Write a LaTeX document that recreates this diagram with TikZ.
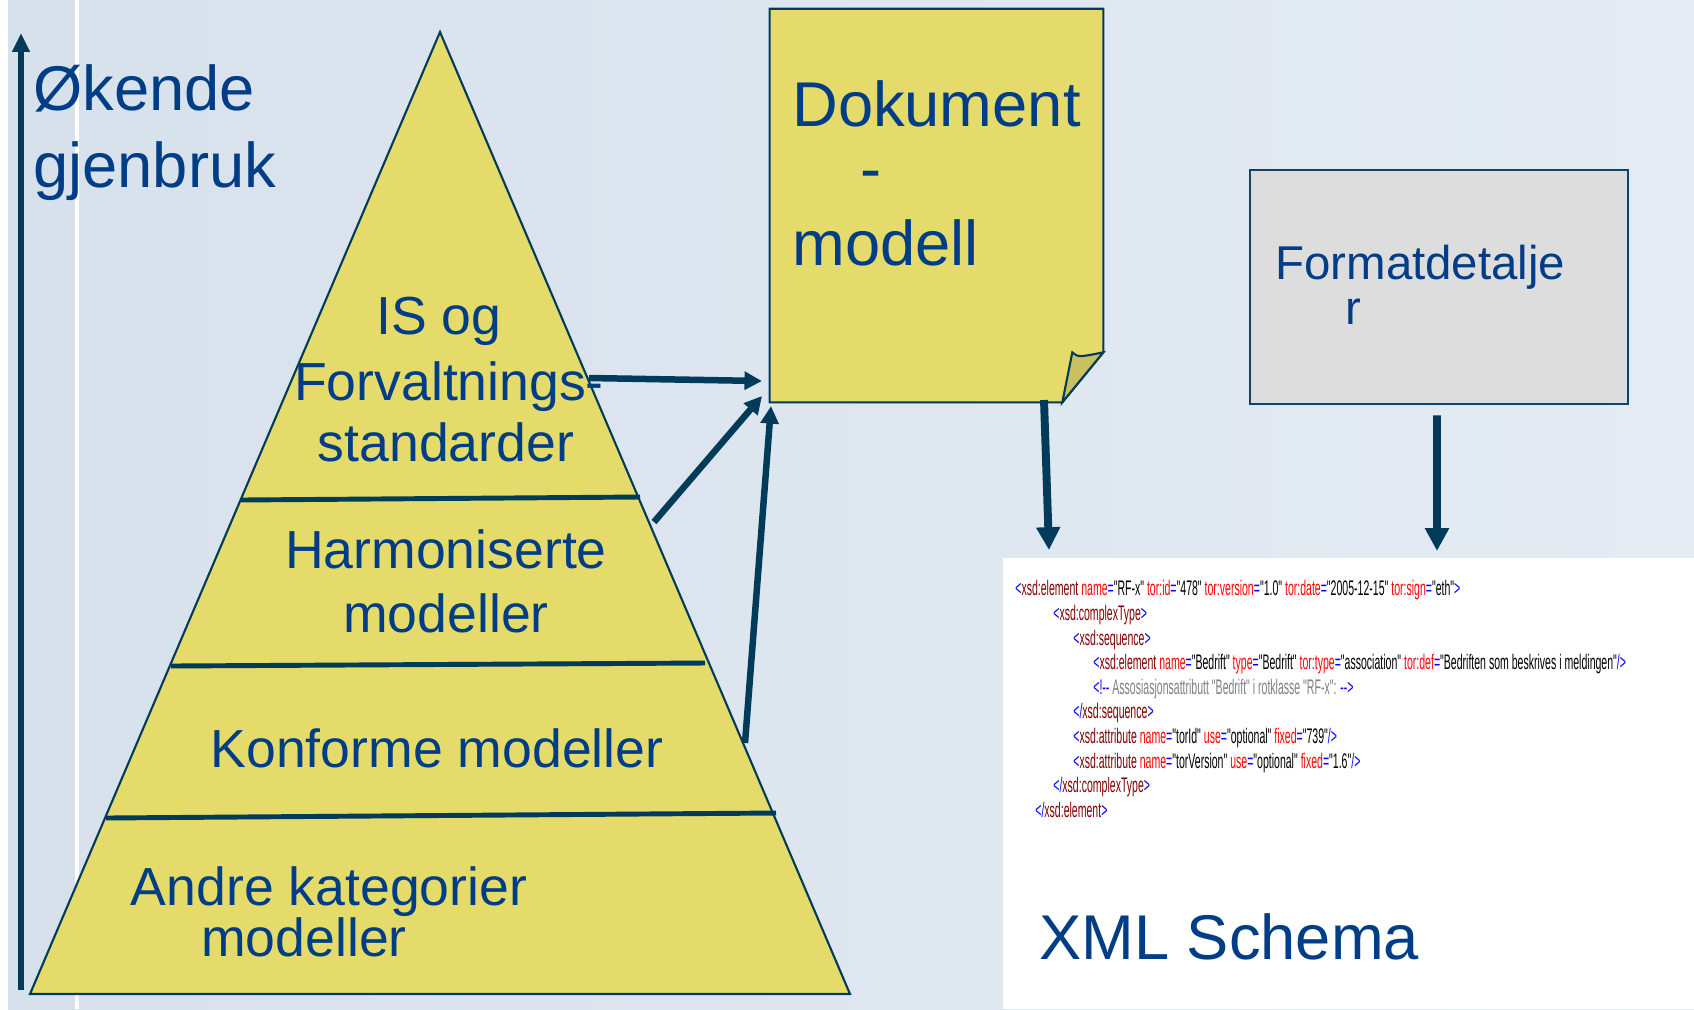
\documentclass[tikz,border=0pt]{standalone}
\usepackage{fontspec}
\setmainfont{Liberation Sans}
\newfontfamily\xmlfont[FakeStretch=0.5]{Liberation Sans}
\usetikzlibrary{arrows.meta}

\definecolor{bgleft}{RGB}{215,225,236}
\definecolor{bgright}{RGB}{228,235,243}
\definecolor{pyel}{RGB}{228,219,106}
\definecolor{pfold}{RGB}{201,192,96}
\definecolor{linec}{RGB}{0,60,90}
\definecolor{txtblue}{RGB}{0,61,135}
\definecolor{boxgray}{RGB}{221,221,221}
\definecolor{boxline}{RGB}{12,70,110}
\definecolor{xblue}{RGB}{0,0,255}
\definecolor{xdark}{RGB}{128,0,0}
\definecolor{xred}{RGB}{255,0,0}
\definecolor{xgray}{RGB}{128,128,128}

% xml-biter
\newcommand\xtag[1]{\textcolor{xblue}{<}\textcolor{xdark}{#1}}
\newcommand\xslutt[1]{\textcolor{xblue}{</}\textcolor{xdark}{#1}\textcolor{xblue}{>}}
\newcommand\xatt[2]{ \textcolor{xred}{#1}\textcolor{xblue}{=}"#2"}
\newcommand\xend[1]{\textcolor{xblue}{#1}}

\tikzset{
  big/.style={inner sep=0pt, text=txtblue, anchor=base west, font=\fontsize{36}{43}\selectfont},
  lvl/.style={inner sep=0pt, text=txtblue, anchor=base, font=\fontsize{30.5}{36}\selectfont},
  xml/.style={inner sep=0pt, anchor=base west, font=\xmlfont\fontsize{12}{14}\selectfont},
  pil/.style={draw=linec, line width=3.7pt, -{Triangle[width=10pt,length=10pt]}},
  pilned/.style={draw=linec, line width=4.5pt, -{Triangle[width=13pt,length=13pt]}},
  skille/.style={draw=linec, line width=2.8pt},
}

\begin{document}
\begin{tikzpicture}[x=0.02cm, y=-0.02cm]
  \useasboundingbox (0,0) rectangle (1694,1009);
  % bakgrunn
  \shade[left color=bgleft, right color=bgright] (8,0) rectangle (1694,1009);
  \fill[white] (75,0) rectangle (79,1009);
  \fill[white] (1003,558) rectangle (1694,1009);

  % gjenbrukspil
  \coordinate (bunn) at (21,990);
  \coordinate (topp) at (21,33);
  \draw[draw=linec, line width=3.4pt, -{Triangle[width=9.6pt,length=10.8pt]}] (bunn) -- (topp);
  \path (33,110) node[big] (okt) {Økende};
  \path (33,187) node[big] (gjen) {gjenbruk};

  % pyramiden
  \path[fill=pyel, draw=linec, line width=1.2pt] (440,32) -- (850,994) -- (30,994) -- cycle;
  \draw[skille] (241,500) -- (640,497);
  \draw[skille] (171,666) -- (705,663);
  \draw[skille] (106,818) -- (776,813);

  % dokumentmodell
  \path (936.5,205.5) node[minimum width=6.66cm, minimum height=7.86cm, inner sep=0pt] (dok) {};
  \path[fill=pyel, draw=linec, line width=1.2pt] (dok.north west) -- (dok.north east)
    -- ([yshift=1cm]dok.south east) -- ([xshift=-0.82cm]dok.south east) -- (dok.south west) -- cycle;
  \path[fill=pfold, draw=linec, line width=1.2pt] ([xshift=-0.82cm]dok.south east)
    -- ([xshift=-0.62cm,yshift=1cm]dok.south east)
    .. controls ([xshift=-0.5cm,yshift=0.9cm]dok.south east) .. ([yshift=1cm]dok.south east) -- cycle;
  \path (792,126) node[big] (dk1) {Dokument};
  \path (871,190) node[big, anchor=base] (dk2) {-};
  \path (792,265) node[big] (dk3) {modell};

  % formatdetaljer
  \path (1439,287) node[draw=boxline, line width=1.6pt, fill=boxgray, minimum width=7.56cm, minimum height=4.68cm] (fmt) {};
  \path (1275,279) node[inner sep=0pt, text=txtblue, anchor=base west, font=\fontsize{27}{32}\selectfont] (fd1) {Formatdetalje};
  \path (1353,324) node[inner sep=0pt, text=txtblue, anchor=base, font=\fontsize{27}{32}\selectfont] (fd2) {r};

  % piler
  \coordinate (a1) at (589,378);
  \coordinate (a2) at (654,522);
  \coordinate (a3) at (745,743);
  \coordinate (t1) at (762,381);
  \coordinate (t2) at (762,396);
  \coordinate (t3) at (771,406);
  \draw[pil] (a1) -- (t1);
  \draw[pil] (a2) -- (t2);
  \draw[pil] (a3) -- (t3);
  \coordinate (d1) at (1044,400);
  \coordinate (d2) at (1049,550);
  \draw[pilned] (d1) -- (d2);
  \coordinate (f2) at (1437,551);
  \draw[pilned] ([xshift=-0.04cm,yshift=-0.2cm]fmt.south) -- (f2);

  % tekst i pyramiden
  \path (439,334) node[lvl] (is) {IS og};
  \path (449,400) node[lvl] (forv) {Forvaltnings-};
  \path (446,461) node[lvl] (std) {standarder};
  \path (446,568) node[lvl] (harm) {Harmoniserte};
  \path (446,632) node[lvl] (hmod) {modeller};
  \path (437,767) node[lvl] (konf) {Konforme modeller};
  \path (329,905) node[lvl] (andre) {Andre kategorier};
  \path (304,956) node[lvl] (amod) {modeller};

  % xml schema
  \path (1015,595) node[xml] (x1) {\xtag{xsd:element}\xatt{name}{RF-x}\xatt{tor:id}{478}\xatt{tor:version}{1.0}\xatt{tor:date}{2005-12-15}\xatt{tor:sign}{eth}\xend{>}};
  \path (1053,620) node[xml] (x2) {\xtag{xsd:complexType}\xend{>}};
  \path (1073,645) node[xml] (x3) {\xtag{xsd:sequence}\xend{>}};
  \path (1093,669) node[xml] (x4) {\xtag{xsd:element}\xatt{name}{Bedrift}\xatt{type}{Bedrift}\xatt{tor:type}{association}\xatt{tor:def}{Bedriften som beskrives i meldingen}\xend{/>}};
  \path (1093,694) node[xml] (x5) {\textcolor{xblue}{<!-{}-} \textcolor{xgray}{Assosiasjonsattributt "Bedrift" i rotklasse "RF-x":} \textcolor{xblue}{-{}->}};
  \path (1073,718) node[xml] (x6) {\xslutt{xsd:sequence}};
  \path (1073,743) node[xml] (x7) {\xtag{xsd:attribute}\xatt{name}{torId}\xatt{use}{optional}\xatt{fixed}{739}\xend{/>}};
  \path (1073,768) node[xml] (x8) {\xtag{xsd:attribute}\xatt{name}{torVersion}\xatt{use}{optional}\xatt{fixed}{1.6}\xend{/>}};
  \path (1053,792) node[xml] (x9) {\xslutt{xsd:complexType}};
  \path (1035,817) node[xml] (x10) {\xslutt{xsd:element}};
  \path (1039,959) node[big] (xs) {XML Schema};
\end{tikzpicture}
\end{document}
